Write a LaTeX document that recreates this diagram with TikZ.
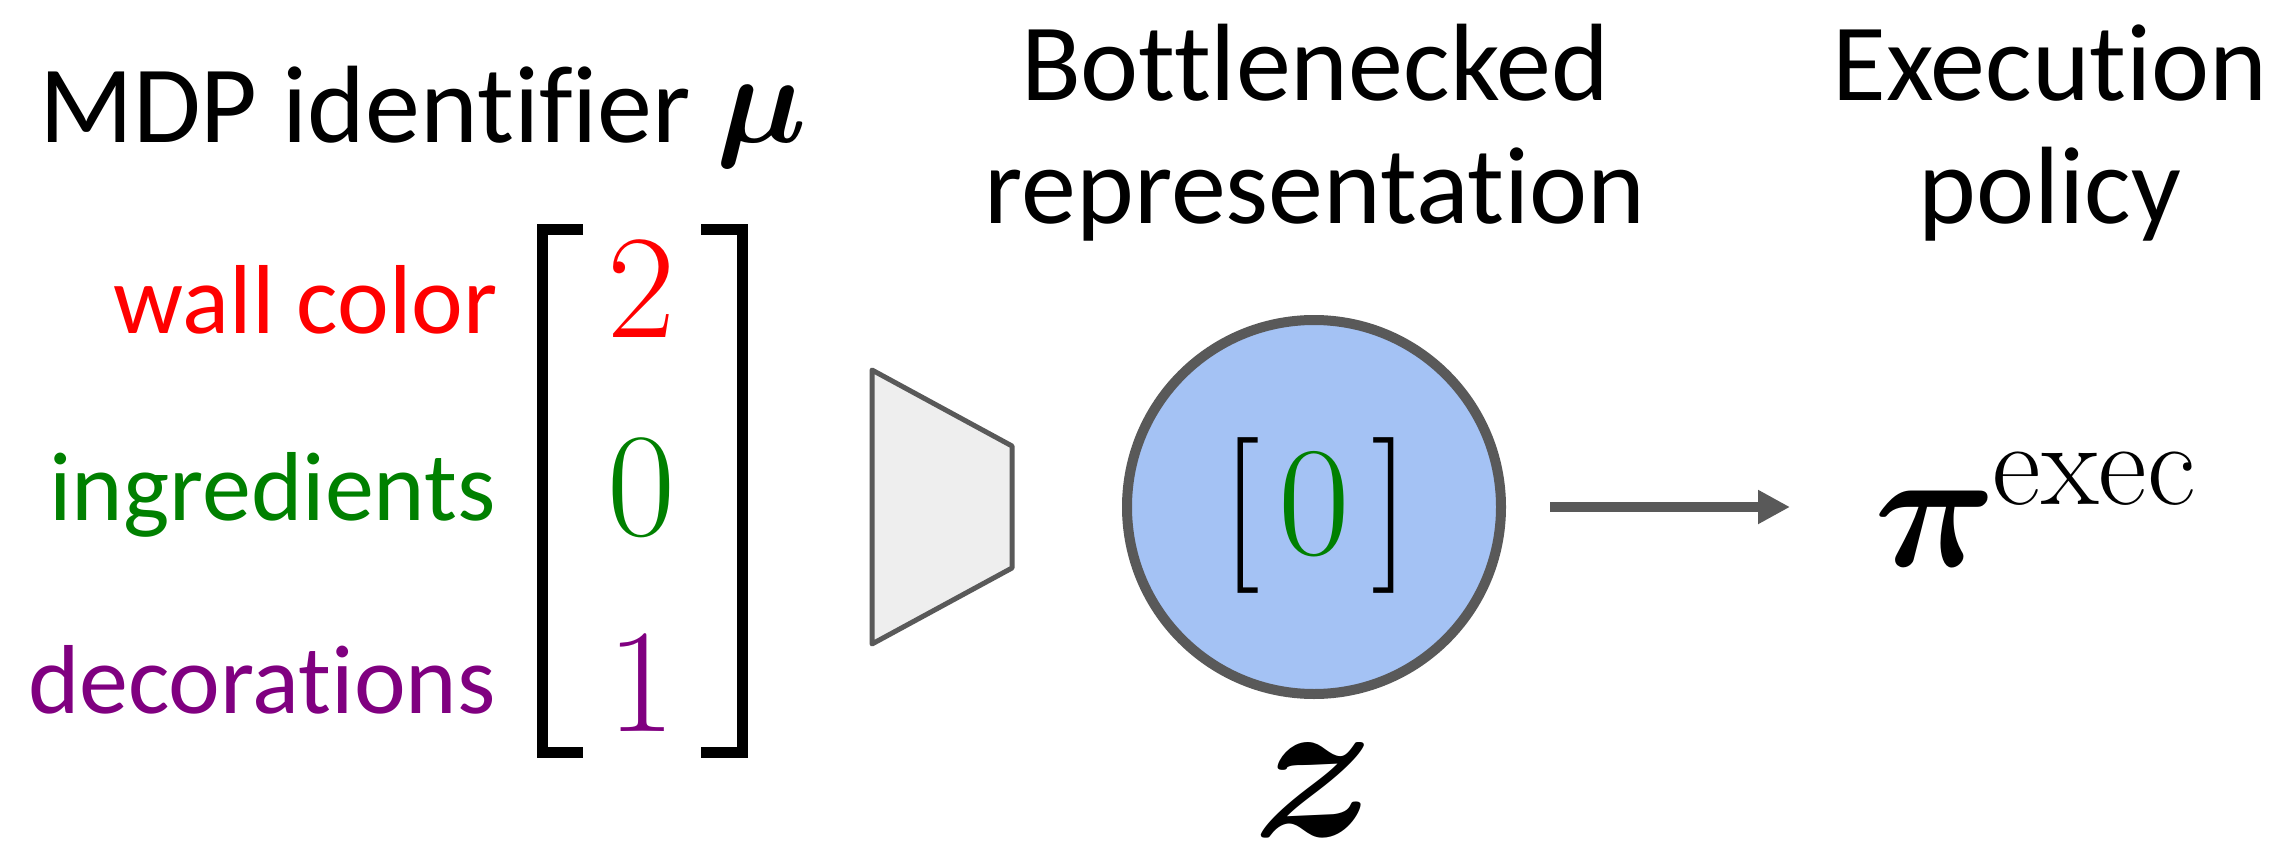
\documentclass[tikz,border=0pt]{standalone}
\usepackage{fontspec}
\usepackage{unicode-math}
\setsansfont{Carlito}[Ligatures=NoCommon]
\usepackage{tikz}
\usetikzlibrary{arrows.meta, positioning, calc}

\definecolor{wallred}{HTML}{FF0000}
\definecolor{ingrgreen}{HTML}{008000}
\definecolor{decopurple}{HTML}{800080}
\definecolor{slategray}{HTML}{595959}
\definecolor{encgray}{HTML}{EEEEEE}
\definecolor{latentblue}{HTML}{A4C2F4}

\begin{document}
\begin{tikzpicture}[
        x=0.5pt, y=-0.5pt,
        headline/.style={font=\sffamily\fontsize{55}{61.5}\selectfont, align=center, inner sep=0pt},
        featlabel/.style={font=\sffamily\fontsize{49}{55}\selectfont, anchor=base east, inner sep=0pt},
        entry/.style={font=\fontsize{74}{80}\selectfont, anchor=base, inner sep=0pt},
        bracketline/.style={line width=5.5pt, line cap=butt, line join=miter},
        encoder/.style={draw=slategray, fill=encgray, line width=2.5pt, line join=round},
        latent/.style={circle, draw=slategray, fill=latentblue, line width=5pt, minimum size=187pt, inner sep=0pt},
        flowarrow/.style={draw=slategray, line width=5pt, -{Triangle[length=16pt, width=16pt]}},
    ]
        \useasboundingbox (0,0) rectangle (2286,856);

        % Headings
        \node[headline, anchor=base] (mdp) at (423,142)
            {MDP identifier {\fontsize{64}{64}\selectfont$\symbfit{\mu}$}};
        \node[headline, anchor=base] (bneck) at (1315,223) {Bottlenecked\\representation};
        \node[headline, anchor=base] (execpol) at (2050,223) {Execution\\policy};

        % MDP identifier vector
        \node[featlabel, text=wallred] (wall) at (498,333) {wall color};
        \node[featlabel, text=ingrgreen] (ingr) at (496,520) {ingredients};
        \node[featlabel, text=decopurple] (deco) at (496,713) {decorations};
        \node[entry, text=wallred] (wallval) at (641,337) {2};
        \node[entry, text=ingrgreen] (ingrval) at (641,535) {0};
        \node[entry, text=decopurple] (decoval) at (641,731) {1};
        \draw[bracketline] (583,229) -- (542.5,229) -- (542.5,752) -- (583,752);
        \draw[bracketline] (701,229) -- (742.5,229) -- (742.5,752) -- (701,752);

        % Encoder
        \draw[encoder] (872,370) -- (1012,446) -- (1012,568) -- (872,644) -- cycle;

        % Bottleneck
        \node[latent] (zcirc) at (1314,507) {};
        \node[anchor=base, inner sep=0pt, font=\fontsize{78}{80}\selectfont] (zvec) at (1316,554)
            {[\hspace{9pt}{\color{ingrgreen}0}\hspace{11pt}]};
        \node[anchor=base, inner sep=0pt, font=\fontsize{104}{104}\selectfont] (zname) at (1311,836)
            {$\symbfit{z}$};

        % Policy
        \node[anchor=base west, inner sep=0pt, font=\fontsize{85}{90}\selectfont] (policy) at (1874,566)
            {$\symbfit{\pi}^{\mathrm{exec}}$};
        \draw[flowarrow, shorten <=22pt, shorten >=42pt] (zcirc.east) -- (zcirc.east -| policy.west);
    \end{tikzpicture}
\end{document}
